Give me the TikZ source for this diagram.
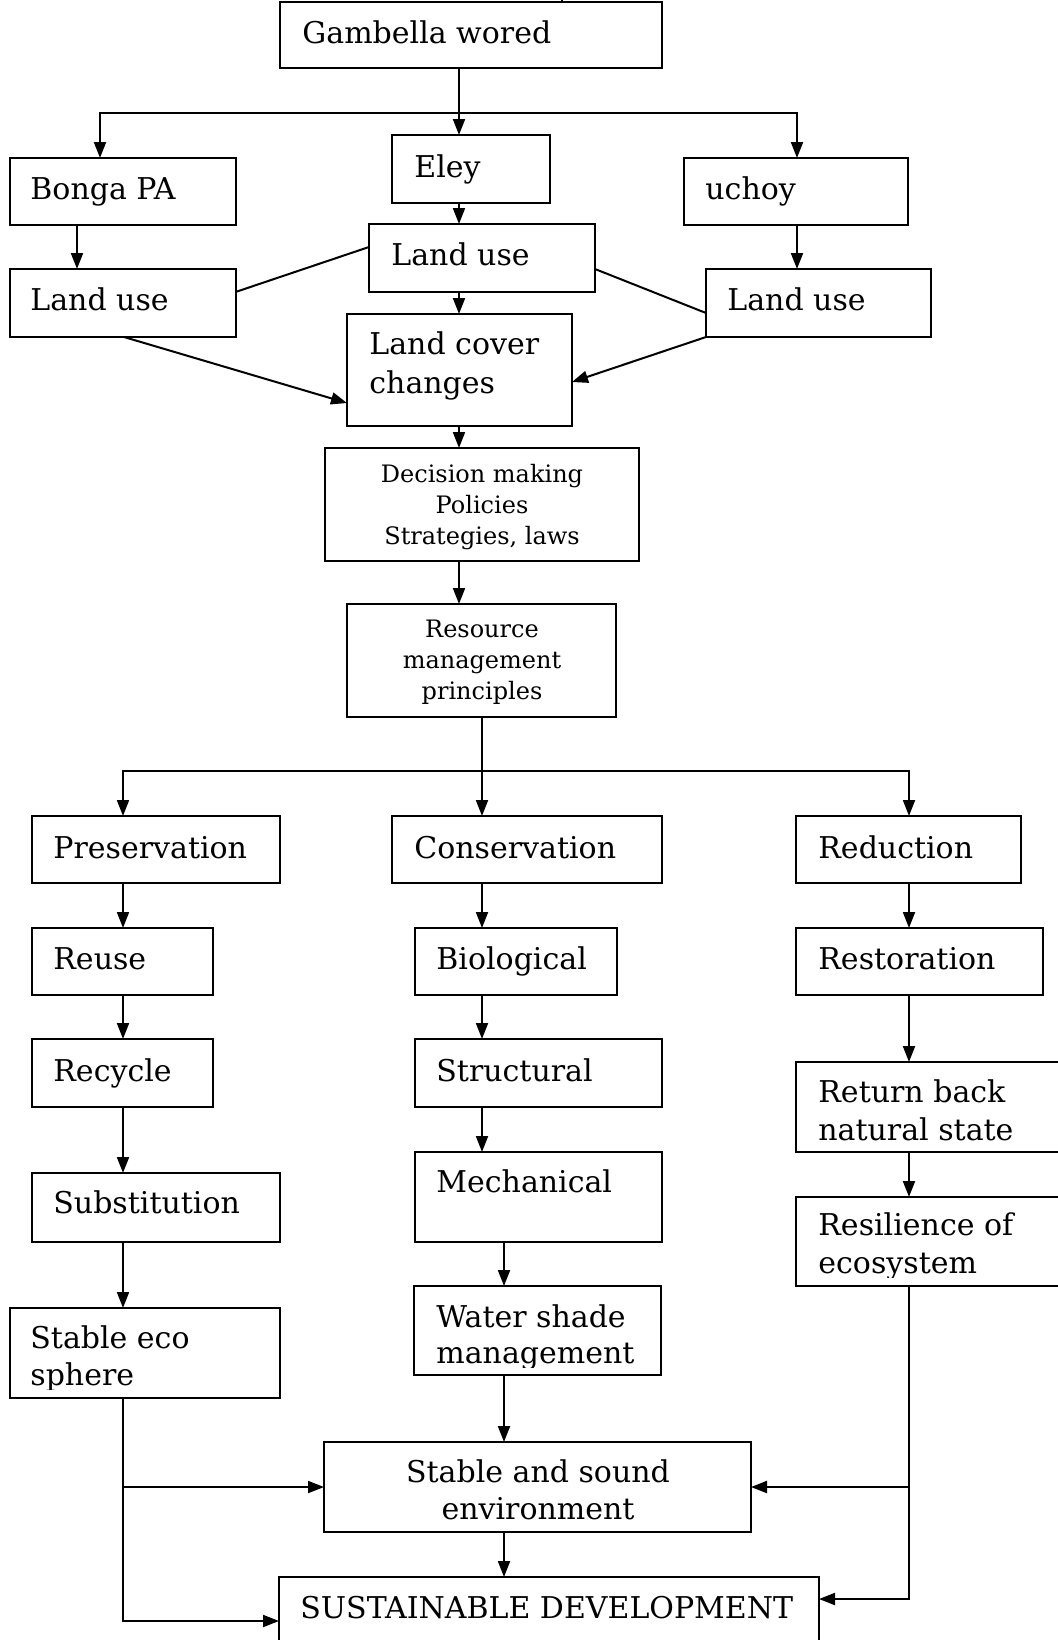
\documentclass[tikz,border=0pt]{standalone}
\usepackage{fontspec}
\setmainfont{DejaVu Serif}
\usetikzlibrary{arrows.meta,calc}
\newcommand\mybox[5]{\node[box, minimum width=#4*0.5pt, minimum height=#5*0.5pt] (#1) at (#2,#3) {};}
\begin{document}
\begin{tikzpicture}[x=0.5pt,y=-0.5pt,
  box/.style={draw, line width=1pt, anchor=north west, inner sep=0pt, outer sep=0pt},
  txt/.style={inner sep=0pt, anchor=base west, align=left, font=\fontsize{15}{19}\selectfont},
  ctxt/.style={inner sep=0pt, anchor=base, align=center, font=\fontsize{12}{15.5}\selectfont},
  cbig/.style={inner sep=0pt, anchor=base, align=center, font=\fontsize{15}{18.5}\selectfont},
  ln/.style={line width=1pt},
  arr/.style={line width=1pt, -{Triangle[length=8pt,width=6pt]}},
]
\useasboundingbox (0,0) rectangle (1058,1640);
% boxes
\mybox{gam}{280}{2}{382}{66}
\mybox{bonga}{9.5}{158}{226}{67}
\mybox{eley}{392}{135}{158}{68}
\mybox{uchoy}{684}{158}{224}{67}
\mybox{luA}{9.5}{269}{226}{68}
\mybox{luB}{369}{224}{226}{68}
\mybox{luC}{706}{269}{225}{68}
\mybox{lcc}{347}{314}{225}{112}
\mybox{dec}{325}{448}{314}{113}
\mybox{res}{347}{604}{269}{113}
\mybox{pres}{32}{816}{248}{67}
\mybox{cons}{392}{816}{270}{67}
\mybox{redu}{796}{816}{225}{67}
\mybox{reuse}{32}{928}{181}{67}
\mybox{bio}{415}{928}{202}{67}
\mybox{resto}{796}{928}{247}{67}
\mybox{recy}{32}{1039}{181}{68}
\mybox{struc}{415}{1039}{247}{68}
\mybox{ret}{796}{1062}{290}{90}
\mybox{subst}{32}{1173}{248}{69}
\mybox{mech}{415}{1152}{247}{90}
\mybox{resil}{796}{1197}{290}{89}
\mybox{eco}{9.5}{1308}{270}{90}
\mybox{wsm}{414}{1286}{247}{89}
\mybox{ssenv}{324}{1442}{427}{90}
\mybox{sd}{279}{1577}{540}{90}
% texts (multi-line nodes: base = last line)
\node[txt] (gam-t) at (302,43) {Gambella wored};
\node[txt] (bonga-t) at (30,199) {Bonga PA};
\node[txt] (eley-t) at (414,177) {Eley};
\node[txt] (uchoy-t) at (705,199) {uchoy};
\node[txt] (luA-t) at (30,310) {Land use};
\node[txt] (luB-t) at (391,265) {Land use};
\node[txt] (luC-t) at (727,310) {Land use};
\node[txt, font=\fontsize{15}{19.5}\selectfont] (lcc-t) at (369,393) {Land cover\\changes};
\begin{scope}
\clip (325,448) rectangle (639,550);
\node[ctxt] (dec-t) at (482,544) {Decision making\\Policies\\Strategies, laws};
\end{scope}
\node[ctxt] (res-t) at (482,699) {Resource\\management\\principles};
\node[txt] (pres-t) at (53,858) {Preservation};
\node[txt] (cons-t) at (414,858) {Conservation};
\node[txt] (redu-t) at (818,858) {Reduction};
\node[txt] (reuse-t) at (53,969) {Reuse};
\node[txt] (bio-t) at (436,969) {Biological};
\node[txt] (resto-t) at (818,969) {Restoration};
\node[txt] (recy-t) at (53,1081) {Recycle};
\node[txt] (struc-t) at (436,1081) {Structural};
\node[txt] (ret-t) at (818,1140) {Return back\\natural state};
\node[txt] (subst-t) at (53,1213) {Substitution};
\node[txt] (mech-t) at (436,1192) {Mechanical};
\begin{scope}
\clip (796,1197) rectangle (1058,1277);
\node[txt] (resil-t) at (818,1273) {Resilience of\\ecosystem};
\end{scope}
\begin{scope}
\clip (9.5,1308) rectangle (279.5,1389);
\node[txt, font=\fontsize{15}{18.5}\selectfont] (eco-t) at (30,1385) {Stable eco\\sphere};
\end{scope}
\begin{scope}
\clip (414,1286) rectangle (661,1367);
\node[txt, font=\fontsize{15}{18}\selectfont] (wsm-t) at (436,1363) {Water shade\\management};
\end{scope}
\node[cbig] (ssenv-t) at (538,1519) {Stable and sound\\environment};
\node[txt] (sd-t) at (300,1618) {SUSTAINABLE DEVELOPMENT};
% coordinates
\coordinate (xA) at (459,0);
\coordinate (xB) at (482,0);
\coordinate (xC) at (504,0);
\coordinate (xL) at (123,0);
\coordinate (xR) at (909,0);
\coordinate (xBo) at (100,0);
\coordinate (xU) at (797,0);
\coordinate (xBl) at (77,0);
\coordinate (xLu) at (124,0);
\coordinate (stubtop) at (562,-5);
\coordinate (yT) at (0,113);
\coordinate (yM) at (0,771);
\coordinate (yS) at (0,1487);
\coordinate (ySL) at (0,1621);
\coordinate (ySR) at (0,1599);
% connectors
\draw[ln] (gam.north -| stubtop) -- (stubtop);
\draw[arr] (gam.south -| xA) -- (eley.north -| xA);
\draw[arr] (yT -| xA) -| (bonga.north -| xBo);
\draw[arr] (yT -| xA) -| (uchoy.north -| xU);
\draw[arr] (bonga.south -| xBl) -- (luA.north -| xBl);
\draw[arr] (eley.south -| xA) -- (luB.north -| xA);
\draw[arr] (uchoy.south -| xU) -- (luC.north -| xU);
\draw[ln] ($(luB.north west)+(0,23)$) -- ($(luA.north east)+(0,23)$);
\draw[ln] ($(luB.north east)+(0,45)$) -- ($(luC.north west)+(0,44)$);
\draw[arr] (luB.south -| xA) -- (lcc.north -| xA);
\draw[arr] (luA.south -| xLu) -- ($(lcc.north west)+(0,89)$);
\draw[arr] (luC.south west) -- ($(lcc.north east)+(0,68)$);
\draw[arr] (lcc.south -| xA) -- (dec.north -| xA);
\draw[arr] (dec.south -| xA) -- (res.north -| xA);
\draw[arr] (res.south -| xB) -- (cons.north -| xB);
\draw[arr] (yM -| xB) -| (pres.north -| xL);
\draw[arr] (yM -| xB) -| (redu.north -| xR);
\draw[arr] (pres.south -| xL) -- (reuse.north -| xL);
\draw[arr] (reuse.south -| xL) -- (recy.north -| xL);
\draw[arr] (recy.south -| xL) -- (subst.north -| xL);
\draw[arr] (subst.south -| xL) -- (eco.north -| xL);
\draw[arr] (cons.south -| xB) -- (bio.north -| xB);
\draw[arr] (bio.south -| xB) -- (struc.north -| xB);
\draw[arr] (struc.south -| xB) -- (mech.north -| xB);
\draw[arr] (mech.south -| xC) -- (wsm.north -| xC);
\draw[arr] (wsm.south -| xC) -- (ssenv.north -| xC);
\draw[arr] (ssenv.south -| xC) -- (sd.north -| xC);
\draw[arr] (redu.south -| xR) -- (resto.north -| xR);
\draw[arr] (resto.south -| xR) -- (ret.north -| xR);
\draw[arr] (ret.south -| xR) -- (resil.north -| xR);
\draw[arr] (eco.south -| xL) |- (sd.west |- ySL);
\draw[arr] (yS -| xL) -- (ssenv.west |- yS);
\draw[arr] (resil.south -| xR) |- (sd.east |- ySR);
\draw[arr] (yS -| xR) -- (ssenv.east |- yS);
\end{tikzpicture}
\end{document}
